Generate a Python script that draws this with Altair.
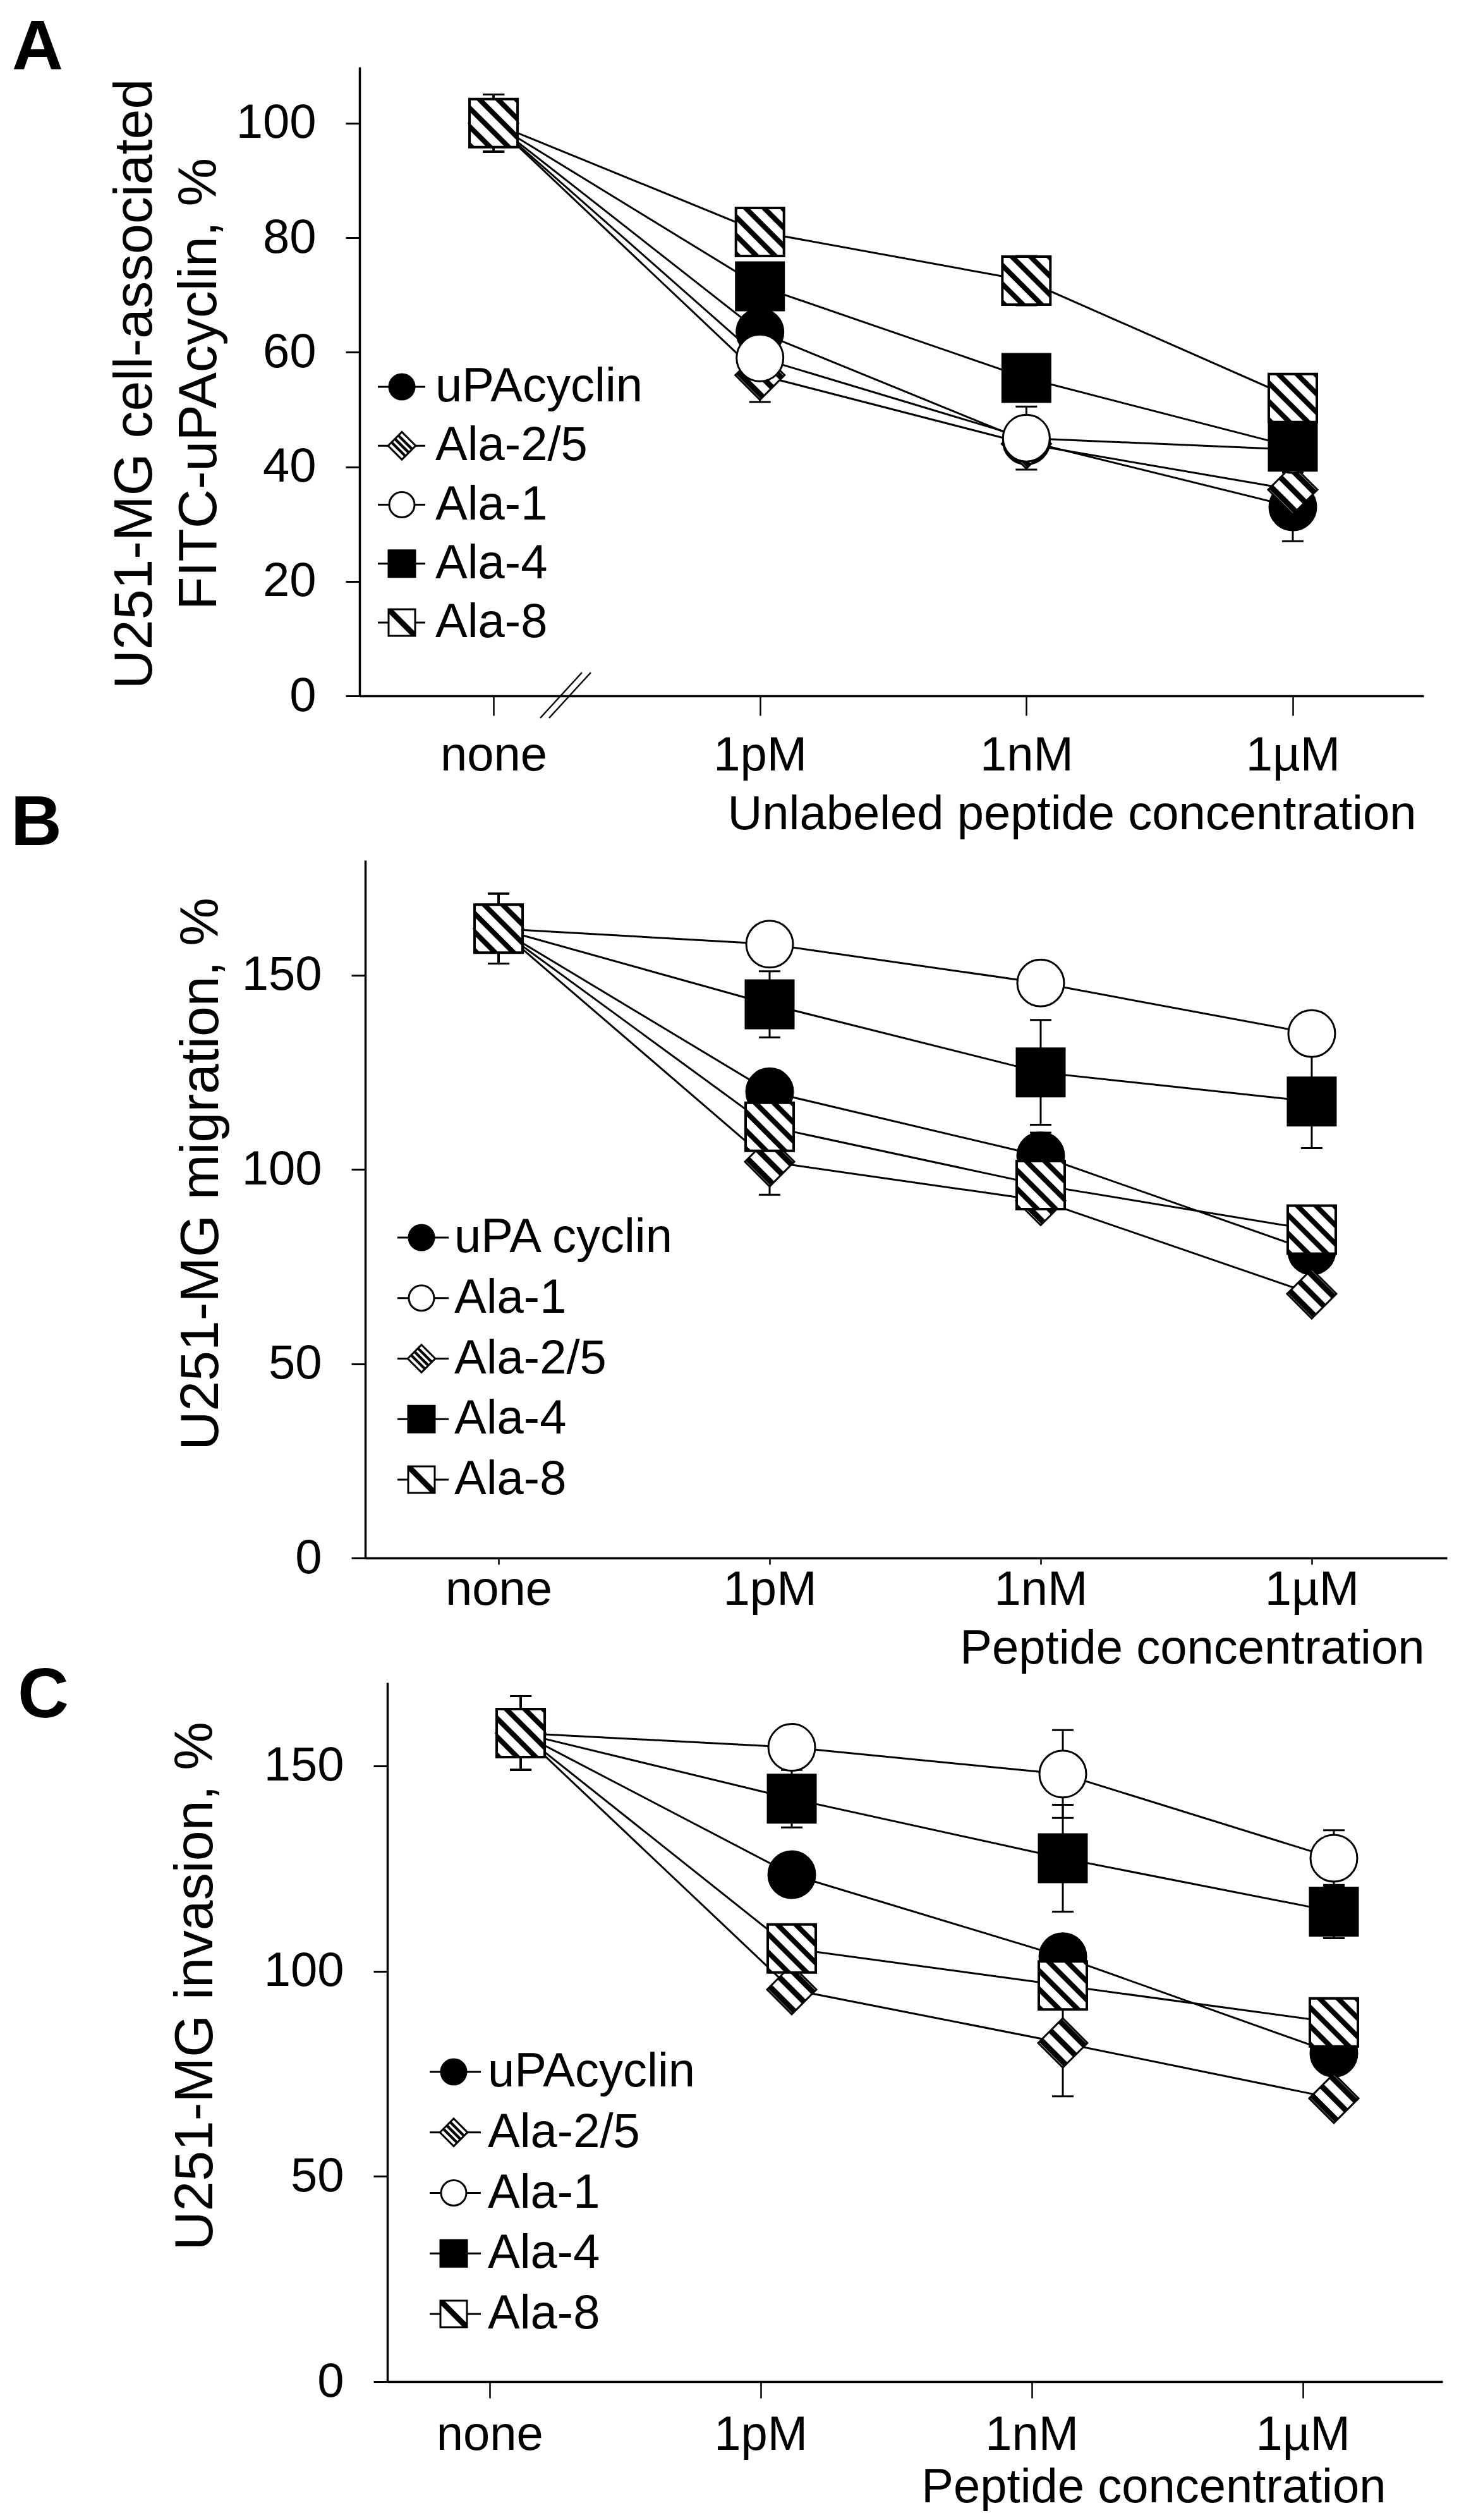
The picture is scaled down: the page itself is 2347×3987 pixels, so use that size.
import json

import altair as alt
import pandas as pd

# %% Data

concentrations = ["none", "1pM", "1nM", "1µM"]
panel_labels = ["A", "B", "C"]

# A: cell-associated FITC-uPAcyclin
a_names = ["uPAcyclin", "Ala-2/5", "Ala-1", "Ala-4", "Ala-8"]
a_kinds = ["upa", "ala25", "ala1", "ala4", "ala8"]
a_upa = [100, 63.5, 44.5, 33]
a_ala25 = [100, 56, 44, 36]
a_ala1 = [100, 59, 45, 43]
a_ala4 = [100, 71.5, 55.5, 43.5]
a_ala8 = [100, 81, 72.5, 52]
a_upa_err = [5, 2, 2, 6]
a_ala25_err = [5, 4.7, 2, 2]
a_ala1_err = [5, 2, 5.5, 2]
a_ala4_err = [5, 2, 2, 2]
a_ala8_err = [5, 2, 4.3, 2]

# B: migration
b_names = ["uPA cyclin", "Ala-1", "Ala-2/5", "Ala-4", "Ala-8"]
b_kinds = ["upa", "ala1", "ala25", "ala4", "ala8"]
b_upa = [162, 120, 103.5, 79]
b_ala1 = [162, 158, 148, 135]
b_ala25 = [162, 102, 92, 68]
b_ala4 = [162, 142.5, 125, 117.5]
b_ala8 = [162, 111, 96, 84.5]
b_upa_err = [9, 5, 6, 2]
b_ala1_err = [9, 2, 2, 2]
b_ala25_err = [9, 8.5, 2, 2]
b_ala4_err = [9, 8.5, 13.5, 12]
b_ala8_err = [9, 2, 2, 2]

# C: invasion
c_names = ["uPAcyclin", "Ala-2/5", "Ala-1", "Ala-4", "Ala-8"]
c_kinds = ["upa", "ala25", "ala1", "ala4", "ala8"]
c_upa = [158, 123.5, 103.5, 80]
c_ala25 = [158, 95.5, 82.5, 69]
c_ala1 = [158, 154.5, 148, 127.5]
c_ala4 = [158, 142, 127.5, 114.5]
c_ala8 = [158, 105.5, 96.5, 87.5]
c_upa_err = [9, 2, 2, 2]
c_ala25_err = [9, 2, 13, 2]
c_ala1_err = [9, 2, 10.7, 6.8]
c_ala4_err = [9, 7, 13, 6.5]
c_ala8_err = [9, 2, 2, 2]

FONT = "Liberation Sans"

# %% Hatched marker shapes (diagonal bands clipped to the outline)

SQUARE = [(-1, -1), (1, -1), (1, 1), (-1, 1)]
DIAMOND = [(0, -1), (1, 0), (0, 1), (-1, 0)]


def clip(poly, a, b, c):
    # keep the part where a*x + b*y <= c
    out = []
    for i in range(len(poly)):
        p, q = poly[i], poly[(i + 1) % len(poly)]
        fp = a * p[0] + b * p[1] - c
        fq = a * q[0] + b * q[1] - c
        if fp <= 0:
            out.append(p)
        if fp * fq < 0:
            t = fp / (fp - fq)
            out.append((p[0] + t * (q[0] - p[0]), p[1] + t * (q[1] - p[1])))
    return out


def bands(outline, centers, half):
    parts = []
    for c in centers:
        poly = clip(outline, -1, 1, c + half)
        poly = clip(poly, 1, -1, half - c)
        if len(poly) >= 3:
            parts.append("M" + " L".join(f"{x:.3f},{y:.3f}" for x, y in poly) + " Z")
    return " ".join(parts)


styles = {
    "upa": dict(shape="circle", fill="black", size=5476, sw=3,
                hatch=None, lsize=1600, lhatch=None),
    "ala1": dict(shape="circle", fill="white", size=5476, sw=3,
                 hatch=None, lsize=1600, lhatch=None),
    "ala25": dict(shape="diamond", fill="white", size=6084, sw=3,
                  hatch=bands(DIAMOND, [-0.77, 0, 0.77], 0.16), lsize=1900,
                  lhatch=bands(DIAMOND, [-0.5, 0, 0.5], 0.14)),
    "ala4": dict(shape="square", fill="black", size=5776, sw=3,
                 hatch=None, lsize=1764, lhatch=None),
    "ala8": dict(shape="square", fill="white", size=5776, sw=4,
                 hatch=bands(SQUARE, [-1.94, -1.17, -0.4, 0.37, 1.14, 1.91], 0.15),
                 lsize=1764, lhatch=bands(SQUARE, [0], 0.3)),
}

panels = {
    "A": dict(width=1684, height=995, x_start=0, y_top=0, x_domain=[-0.503, 3.491], shift=0,
              y_max=109.8, y_ticks=[0, 20, 40, 60, 80, 100], x_tick=31, x_pad=26,
              y_title=["U251-MG cell-associated", "FITC-uPAcyclin, %"], y_title_x=-330, y_title_y=501,
              x_title="Unlabeled peptide concentration", x_title_x=1672, x_title_y=210,
              leg_line=(29, 104), leg_sym=67, leg_text=120, leg_rows=[506, 879], letter=(-550, 4)),
    "B": dict(width=1721, height=1167, x_start=9, y_top=63, x_domain=[-0.492, 3.499], shift=0,
              y_max=179.6, y_ticks=[0, 50, 100, 150], x_tick=10, x_pad=3,
              y_title="U251-MG migration, %", y_title_x=-234, y_title_y=559,
              x_title="Peptide concentration", x_title_x=1685, x_title_y=166,
              leg_line=(60, 141), leg_sym=98, leg_text=150, leg_rows=[660, 1043], letter=(-552, 39)),
    "C": dict(width=1714, height=1106, x_start=44, y_top=0, x_domain=[-0.492, 3.401], shift=-0.115,
              y_max=170.3, y_ticks=[0, 50, 100, 150], x_tick=26, x_pad=21,
              y_title="U251-MG invasion, %", y_title_x=-278, y_title_y=480,
              x_title="Peptide concentration", x_title_x=1624, x_title_y=190,
              leg_line=(111, 192), leg_sym=149, leg_text=203, leg_rows=[616, 999], letter=(-541, 55)),
}

label_expr = json.dumps(concentrations, ensure_ascii=False) + "[round(datum.value)]"


def make_panel(letter, names, kinds, values, errs, breaks=False):
    cfg = panels[letter]
    rows = []
    for order, (name, kind, vals, es) in enumerate(zip(names, kinds, values, errs)):
        for i, (v, e) in enumerate(zip(vals, es)):
            rows.append(dict(series=name, kind=kind, order=order, pos=i,
                             value=v, lo=v - e, hi=v + e))
    df = pd.DataFrame(rows)

    x_axis = alt.Axis(
        values=[i + cfg["shift"] for i in range(len(concentrations))],
        labelExpr=label_expr, labelAngle=0, labelBaseline="top", labelAlign="center",
        labelFontSize=76, labelPadding=cfg["x_pad"], labelFlush=False, labelOverlap=False,
        tickSize=cfg["x_tick"], tickWidth=2.5, domainWidth=3.5,
        title=cfg["x_title"], titleFontSize=76, titleX=cfg["x_title_x"], titleY=cfg["x_title_y"],
        titleAlign="right", titleBaseline="alphabetic", titleAngle=0,
    )
    y_axis = alt.Axis(
        values=cfg["y_ticks"], format="d", labelFontSize=76, labelPadding=47, labelFlush=False,
        tickSize=22, tickWidth=3, domainWidth=3.5, offset=-cfg["x_start"],
        title=cfg["y_title"], titleFontSize=86, titleLineHeight=102, titleAngle=-90,
        titleX=cfg["y_title_x"], titleY=cfg["y_title_y"], titleAlign="center",
        titleBaseline="alphabetic",
    )
    x_scale = alt.Scale(domain=cfg["x_domain"], range=[cfg["x_start"], cfg["width"]],
                        nice=False, zero=False)
    y_scale = alt.Scale(domain=[0, cfg["y_max"]], range=[cfg["height"], cfg["y_top"]], nice=False)

    def X():
        return alt.X("pos:Q", scale=x_scale, axis=x_axis)

    def Y(field):
        return alt.Y(f"{field}:Q", scale=y_scale, axis=y_axis)

    base = alt.Chart(df)
    layers = [
        base.mark_line(color="black", strokeWidth=3).encode(
            x=X(), y=Y("value"), detail="series:N", order="pos:Q"),
        base.mark_rule(color="black", strokeWidth=3).encode(x=X(), y=Y("lo"), y2="hi:Q"),
        base.mark_tick(orient="horizontal", size=34, thickness=3, color="black", opacity=1).encode(
            x=X(), y=Y("lo")),
        base.mark_tick(orient="horizontal", size=34, thickness=3, color="black", opacity=1).encode(
            x=X(), y=Y("hi")),
    ]
    for name, kind in zip(names, kinds):
        st = styles[kind]
        sub = base.transform_filter(alt.datum.series == name)
        layers.append(sub.mark_point(shape=st["shape"], size=st["size"], fill=st["fill"],
                                     stroke="black", strokeWidth=st["sw"], opacity=1).encode(
            x=X(), y=Y("value")))
        if st["hatch"]:
            layers.append(sub.mark_point(shape=st["hatch"], size=st["size"], filled=True,
                                         color="black", strokeWidth=0, opacity=1).encode(
                x=X(), y=Y("value")))
    main = alt.layer(*layers)

    # legend drawn inside the plot
    ldf = pd.DataFrame({"series": names, "kind": kinds, "row": list(range(len(names)))})
    ly = alt.Y("row:Q", scale=alt.Scale(domain=[0, len(names) - 1], range=cfg["leg_rows"]), axis=None)
    lbase = alt.Chart(ldf)
    leg = [
        lbase.mark_rule(color="black", strokeWidth=3).encode(
            x=alt.value(cfg["leg_line"][0]), x2=alt.value(cfg["leg_line"][1]), y=ly),
    ]
    for name, kind in zip(names, kinds):
        st = styles[kind]
        sub = lbase.transform_filter(alt.datum.series == name)
        leg.append(sub.mark_point(shape=st["shape"], size=st["lsize"], fill=st["fill"],
                                  stroke="black", strokeWidth=3, opacity=1).encode(
            x=alt.value(cfg["leg_sym"]), y=ly))
        if st["lhatch"]:
            leg.append(sub.mark_point(shape=st["lhatch"], size=st["lsize"], filled=True,
                                      color="black", strokeWidth=0, opacity=1).encode(
                x=alt.value(cfg["leg_sym"]), y=ly))
    leg.append(lbase.mark_text(align="left", baseline="middle", fontSize=76, font=FONT,
                               color="black").encode(
        x=alt.value(cfg["leg_text"]), y=ly, text="series:N"))
    legend = alt.layer(*leg)

    tag = alt.Chart(pd.DataFrame({"label": [letter]})).mark_text(
        align="left", baseline="alphabetic", fontSize=112, fontWeight="bold", font=FONT,
        color="black").encode(x=alt.value(cfg["letter"][0]), y=alt.value(cfg["letter"][1]),
                              text="label:N")

    parts = [main, legend, tag]
    if breaks:
        one = alt.Chart(pd.DataFrame({"k": [0]}))
        for dx in (0, 14):
            parts.append(one.mark_rule(color="black", strokeWidth=2.5).encode(
                x=alt.value(286 + dx), x2=alt.value(352 + dx),
                y=alt.value(1030), y2=alt.value(958)))

    return alt.layer(*parts).resolve_scale(y="independent").properties(
        width=cfg["width"], height=cfg["height"])


pA = make_panel("A", a_names, a_kinds,
                [a_upa, a_ala25, a_ala1, a_ala4, a_ala8],
                [a_upa_err, a_ala25_err, a_ala1_err, a_ala4_err, a_ala8_err], breaks=True)
pB = make_panel("B", b_names, b_kinds,
                [b_upa, b_ala1, b_ala25, b_ala4, b_ala8],
                [b_upa_err, b_ala1_err, b_ala25_err, b_ala4_err, b_ala8_err])
pC = make_panel("C", c_names, c_kinds,
                [c_upa, c_ala25, c_ala1, c_ala4, c_ala8],
                [c_upa_err, c_ala25_err, c_ala1_err, c_ala4_err, c_ala8_err])

chart = (
    alt.vconcat(pA, pB, pC, spacing=197, bounds="flush")
    .properties(padding={"left": 9, "top": 12, "right": 20, "bottom": 0})
    .configure_view(strokeWidth=0)
    .configure_axis(grid=False, domainColor="black", tickColor="black", labelColor="black",
                    titleColor="black", labelFont=FONT, titleFont=FONT, titleFontWeight="normal")
)

chart.save("out.html", embed_options={"renderer": "svg", "actions": False})
